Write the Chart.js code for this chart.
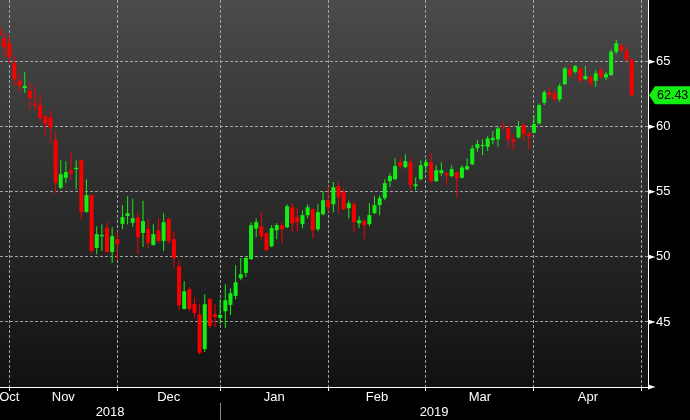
<!DOCTYPE html>
<html>
<head>
<meta charset="utf-8">
<script src="https://cdn.jsdelivr.net/npm/chart.js@4.4.1/dist/chart.umd.min.js"></script>
<style>
  html, body { margin: 0; padding: 0; background: #000; }
  canvas { display: block; }
</style>
</head>
<body>
<canvas id="oil" width="690" height="420"></canvas>
<script>
// daily candles, 29 Oct 2018 .. 26 Apr 2019 (one entry per trading day)
const opens = [
  67.62, 66.82, 66.44, 64.92, 63.54, 62.98, 62.77, 61.82, 61.67, 60.82,
  60.72, 58.98, 55.31, 56.08, 56.67, 56.75, 57.44, 53.46, 54.75, 50.69,
  51.59, 52.23, 50.38, 51.36, 52.54, 53.15, 52.62, 53.05, 51.85, 52.15,
  50.92, 52.05, 51.23, 52.90, 51.36, 49.28, 46.00, 47.52, 46.38, 45.59,
  42.92, 46.75, 45.59, 45.31, 45.82, 46.31, 47.00, 48.36, 48.77, 49.82,
  52.18, 52.36, 51.82, 50.82, 52.05, 52.44, 52.28, 53.82, 53.05, 52.52,
  53.21, 53.67, 52.13, 53.28, 54.36, 54.05, 55.44, 54.98, 53.75, 54.05,
  52.59, 52.75, 52.52, 53.36, 53.98, 54.52, 55.82, 55.98, 57.28, 56.90,
  57.28, 55.44, 55.98, 56.98, 57.28, 55.82, 56.44, 56.44, 56.21, 56.52,
  56.08, 56.72, 57.13, 58.36, 58.52, 58.46, 58.98, 59.03, 60.08, 59.88,
  59.03, 59.18, 60.13, 59.49, 59.54, 60.26, 61.85, 62.65, 62.57, 62.11,
  63.28, 64.44, 64.23, 64.49, 63.67, 63.85, 63.54, 64.36, 63.80, 63.98,
  65.77, 66.23, 65.85, 65.18
];
const highs = [
  68.00, 67.28, 67.05, 65.44, 63.98, 64.23, 63.36, 63.21, 62.44, 60.95,
  61.36, 59.52, 57.44, 57.36, 58.05, 57.44, 57.49, 55.98, 54.80, 52.36,
  52.51, 52.67, 52.28, 51.98, 53.98, 54.67, 54.49, 53.44, 54.31, 52.90,
  52.51, 52.98, 53.36, 53.05, 51.98, 49.75, 48.13, 47.67, 46.90, 46.36,
  47.13, 46.85, 46.36, 46.75, 47.90, 47.59, 49.36, 49.92, 50.00, 52.67,
  52.95, 53.44, 51.90, 52.44, 52.59, 52.67, 54.05, 54.13, 53.75, 53.59,
  54.05, 53.75, 54.05, 55.05, 55.44, 55.75, 55.82, 55.28, 54.36, 54.28,
  53.13, 52.90, 54.13, 54.67, 54.75, 55.98, 56.44, 57.59, 57.67, 57.90,
  57.59, 56.13, 57.44, 57.52, 57.98, 57.05, 57.28, 56.52, 57.05, 56.59,
  57.05, 57.57, 58.59, 58.98, 59.03, 59.28, 59.67, 60.05, 60.38, 60.13,
  59.44, 60.44, 60.38, 59.62, 60.90, 61.80, 62.82, 63.03, 62.82, 63.34,
  64.62, 64.82, 64.75, 64.54, 64.67, 63.90, 64.36, 64.67, 64.23, 65.95,
  66.67, 66.42, 66.28, 65.26
];
const lows = [
  66.90, 65.36, 64.90, 63.15, 62.69, 62.62, 61.36, 61.28, 60.46, 59.36,
  58.77, 54.90, 55.20, 55.69, 55.95, 55.18, 52.88, 53.40, 50.26, 50.21,
  50.46, 50.30, 49.54, 49.75, 52.15, 52.52, 52.31, 50.23, 50.77, 50.69,
  50.85, 51.08, 50.46, 51.00, 49.23, 45.90, 45.95, 45.82, 45.31, 42.52,
  42.69, 44.54, 44.62, 44.85, 44.54, 45.54, 46.75, 48.20, 48.46, 49.80,
  51.51, 51.28, 50.45, 50.75, 51.36, 51.05, 52.20, 51.90, 51.98, 52.20,
  52.98, 51.44, 51.98, 53.21, 53.44, 53.44, 53.36, 53.60, 52.98, 51.90,
  52.20, 51.36, 52.36, 53.30, 53.21, 54.36, 55.36, 55.90, 56.75, 56.82,
  55.21, 55.13, 55.90, 56.52, 55.67, 55.75, 56.21, 55.52, 56.13, 54.59,
  56.03, 56.70, 57.05, 58.08, 57.82, 58.15, 58.67, 58.46, 59.75, 58.34,
  58.21, 59.11, 58.90, 58.28, 59.50, 60.20, 61.67, 62.18, 61.92, 61.92,
  63.21, 63.72, 64.10, 63.38, 63.59, 63.08, 63.08, 63.72, 63.59, 63.90,
  65.59, 65.69, 65.00, 62.38
];
const closes = [
  67.00, 66.13, 65.36, 63.67, 63.15, 63.15, 62.23, 61.67, 60.69, 60.21,
  59.95, 55.69, 56.36, 56.52, 56.42, 56.85, 53.46, 54.75, 50.46, 51.75,
  51.69, 50.38, 51.59, 51.00, 53.05, 53.36, 52.98, 51.52, 52.75, 51.08,
  51.75, 51.23, 52.67, 51.23, 49.92, 46.28, 47.36, 46.00, 45.69, 42.62,
  46.36, 44.69, 45.38, 45.54, 46.67, 47.21, 48.05, 48.67, 49.92, 52.44,
  52.67, 51.59, 50.52, 52.21, 52.44, 52.13, 53.90, 52.59, 52.67, 53.21,
  53.82, 52.05, 53.44, 54.36, 53.82, 55.36, 54.59, 53.67, 54.13, 52.67,
  52.82, 52.44, 53.21, 53.98, 54.52, 55.67, 56.21, 56.98, 56.98, 57.36,
  55.52, 55.59, 57.05, 57.28, 55.82, 56.67, 56.67, 56.28, 56.75, 56.05,
  56.88, 56.98, 58.34, 58.67, 58.59, 59.11, 59.15, 59.88, 60.00, 59.03,
  58.85, 60.00, 59.44, 59.28, 60.21, 61.67, 62.65, 62.44, 62.11, 63.13,
  64.49, 63.98, 64.67, 63.54, 63.90, 63.38, 64.11, 63.85, 64.05, 65.77,
  66.42, 65.85, 65.18, 62.43
];

// index of the last trading day of each month (Oct .. Apr)
const monthEnds = [2, 23, 43, 64, 83, 104, 125];
const monthLabels = ['Oct', 'Nov', 'Dec', 'Jan', 'Feb', 'Mar', 'Apr'];
const yearLabels = ['2018', '2019'];
const yearBreak = 43;
const priceTicks = [40, 45, 50, 55, 60, 65, 70];

const X_MIN = 0.194, X_MAX = 126.17;
const GREEN = '#14ee14';
const RED = '#f80000';
const GRID = 'rgba(175,175,175,0.9)';
const FAMILY = "'Liberation Sans', Arial, sans-serif";
const FONT = { family: FAMILY, size: 13, lineHeight: 1 };

const candleColors = opens.map((o, i) => closes[i] >= o ? GREEN : RED);

// month names sit between gridlines, the first one on its (cut) gridline
const monthMids = monthEnds.map((e, i) => i === 0 ? e : (monthEnds[i - 1] + e) / 2);
const yearMids = [(X_MIN + yearBreak) / 2, (yearBreak + X_MAX) / 2];

const bgPlugin = {
  id: 'bg',
  beforeDraw(chart) {
    const { ctx, chartArea: a } = chart;
    ctx.save();
    ctx.fillStyle = '#000';
    ctx.fillRect(0, 0, chart.width, chart.height);
    const g = ctx.createLinearGradient(0, a.top, 0, a.bottom);
    g.addColorStop(0, '#4b4b4b');
    g.addColorStop(0.5, '#2d2d2d');
    g.addColorStop(1, '#111111');
    ctx.fillStyle = g;
    ctx.fillRect(a.left, a.top, a.right - a.left, a.bottom - a.top);
    ctx.restore();
  }
};

const marksPlugin = {
  id: 'marks',
  afterDraw(chart) {
    const { ctx, chartArea: a } = chart;
    const y = chart.scales.y;
    ctx.save();
    // little pointers between axis and price labels
    ctx.fillStyle = '#fff';
    priceTicks.forEach(v => {
      const py = y.getPixelForValue(v);
      ctx.beginPath();
      ctx.moveTo(a.right, py - 2.5);
      ctx.lineTo(a.right + 7.5, py);
      ctx.lineTo(a.right, py + 2.5);
      ctx.closePath();
      ctx.fill();
    });
    // year separator
    const bx = Math.round(chart.scales.x.getPixelForValue(yearBreak)) + 0.5;
    ctx.strokeStyle = '#8a8a8a';
    ctx.lineWidth = 1;
    ctx.beginPath();
    ctx.moveTo(bx, chart.scales.xy.top - 2);
    ctx.lineTo(bx, chart.height);
    ctx.stroke();
    // last price tag
    const last = closes[closes.length - 1];
    const ty = y.getPixelForValue(last);
    ctx.fillStyle = GREEN;
    ctx.beginPath();
    ctx.moveTo(a.right + 1, ty);
    ctx.lineTo(a.right + 7, ty - 9);
    ctx.lineTo(chart.width, ty - 9);
    ctx.lineTo(chart.width, ty + 9);
    ctx.lineTo(a.right + 7, ty + 9);
    ctx.closePath();
    ctx.fill();
    ctx.fillStyle = '#000';
    ctx.font = '12.5px ' + FAMILY;
    ctx.textBaseline = 'middle';
    ctx.textAlign = 'left';
    ctx.fillText(last.toFixed(2), a.right + 9, ty + 0.5);
    ctx.restore();
  }
};

const candleData = {
  datasets: [
    {
      label: 'body',
      data: opens.map((o, i) => ({ x: i, y: [o, closes[i]] })),
      backgroundColor: candleColors,
      borderWidth: 0,
      inflateAmount: 0,
      grouped: false,
      barPercentage: 1,
      categoryPercentage: 1,
      maxBarThickness: 4,
      minBarLength: 1,
      order: 0
    },
    {
      label: 'wick',
      data: lows.map((l, i) => ({ x: i, y: [l, highs[i]] })),
      backgroundColor: candleColors,
      borderWidth: 0,
      inflateAmount: 0,
      grouped: false,
      barPercentage: 1,
      categoryPercentage: 1,
      maxBarThickness: 1,
      order: 1
    }
  ]
};

const noPad = s => { s.paddingLeft = 0; s.paddingRight = 0; };

const oilChart = {
  type: 'bar',
  data: candleData,
  options: {
    responsive: false,
    animation: false,
    layout: { padding: 0 },
    plugins: { legend: { display: false }, tooltip: { enabled: false } },
    scales: {
      x: {
        type: 'linear', position: 'bottom', weight: 0,
        min: X_MIN, max: X_MAX, offset: false,
        grid: { offset: false, color: GRID, lineWidth: 1, drawTicks: true, tickLength: 4, tickColor: '#fff', tickWidth: 1 },
        border: { display: true, color: '#fff', width: 1, dash: [3, 2] },
        ticks: { display: false },
        afterBuildTicks: s => { s.ticks = monthEnds.map(v => ({ value: v })); },
        afterFit: s => { s.height = 4; noPad(s); }
      },
      xm: {
        type: 'linear', position: 'bottom', weight: 1,
        min: X_MIN, max: X_MAX, offset: false,
        grid: { display: false, drawTicks: false, offset: false },
        border: { display: false },
        ticks: { color: '#fff', font: FONT, padding: 0, maxRotation: 0, autoSkip: false,
                 callback: (v, i) => monthLabels[i] },
        afterBuildTicks: s => { s.ticks = monthMids.map(v => ({ value: v })); },
        afterFit: s => { s.height = 14; noPad(s); }
      },
      xy: {
        type: 'linear', position: 'bottom', weight: 2,
        min: X_MIN, max: X_MAX, offset: false,
        grid: { display: false, drawTicks: false, offset: false },
        border: { display: false },
        ticks: { color: '#fff', font: FONT, padding: 1, maxRotation: 0, autoSkip: false,
                 callback: (v, i) => yearLabels[i] },
        afterBuildTicks: s => { s.ticks = yearMids.map(v => ({ value: v })); },
        afterFit: s => { s.height = 15; noPad(s); }
      },
      y: {
        type: 'linear', position: 'right',
        min: 40, max: 69.75, bounds: 'data', beginAtZero: false,
        grid: { color: GRID, lineWidth: 1, drawTicks: true, tickLength: 8, tickColor: 'rgba(0,0,0,0)' },
        border: { display: true, color: '#fff', width: 1, dash: [3, 2] },
        ticks: { color: '#fff', font: FONT, padding: 0, autoSkip: false,
                 callback: v => v === 40 ? '' : v },
        afterBuildTicks: s => { s.ticks = priceTicks.map(v => ({ value: v })); },
        afterFit: s => { s.width = 42; s.paddingTop = 0; s.paddingBottom = 0; }
      }
    }
  },
  plugins: [bgPlugin, marksPlugin]
};

const myOilChart = new Chart(document.getElementById('oil'), oilChart);
</script>
</body>
</html>
